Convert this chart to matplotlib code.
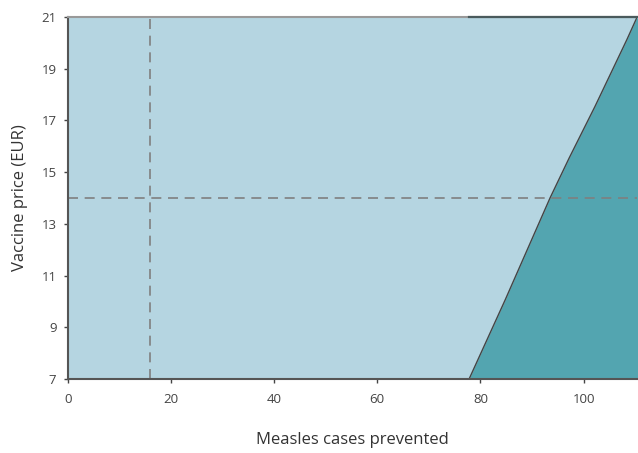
import matplotlib.pyplot as plt

# Frontera de la región (casos prevenidos vs precio de la vacuna)
cases = [77.8, 84.8, 93.5, 97.2, 102.2, 108.4, 110.4]
price = [7.0, 10.06, 14.0, 15.54, 17.53, 20.12, 21.0]

x_ref = 16
y_ref = 14

x_ticks = [0, 20, 40, 60, 80, 100]
y_ticks = [7, 9, 11, 13, 15, 17, 19, 21]

light = '#b5d5e1'
dark = '#53a5b0'

plt.rcParams['font.family'] = ['Open Sans', 'DejaVu Sans']

fig = plt.figure(figsize=(6.38, 4.53), dpi=100)
ax = fig.add_axes([0.106, 0.163, 0.892, 0.8])

xmin, xmax = 0, 110.3
ymin, ymax = 7, 21

ax.set_facecolor(light)
ax.fill_betweenx(price, cases, [xmax + 5] * len(price), color=dark, lw=0)
ax.plot(cases, price, color='#444444', lw=1)
ax.plot([cases[0], xmax], [ymax, ymax], color='#4a5a5c', lw=1.6, clip_on=False, zorder=5)

ax.axvline(x_ref, color='#7f7f7f', lw=1.2, ls=(0, (6, 4)))
ax.axhline(y_ref, color='#7f7f7f', lw=1.2, ls=(0, (6, 4)))

ax.set_xlim(xmin, xmax)
ax.set_ylim(ymin, ymax)
ax.set_xticks(x_ticks)
ax.set_yticks(y_ticks)
ax.tick_params(labelsize=9.5, colors='#444444', length=3, width=1)
ax.tick_params(axis='x', pad=7)
ax.tick_params(axis='y', pad=5)

for s in ['left', 'bottom']:
    ax.spines[s].set_color('#555555')
    ax.spines[s].set_linewidth(1.5)
ax.spines['top'].set_color('#999999')
ax.spines['top'].set_linewidth(1.5)
ax.spines['right'].set_visible(False)

ax.set_xlabel('Measles cases prevented', fontsize=12, color='#333333', labelpad=19)
ax.set_ylabel('Vaccine price (EUR)', fontsize=12, color='#333333', labelpad=10)

plt.savefig('out.png', dpi=100)
